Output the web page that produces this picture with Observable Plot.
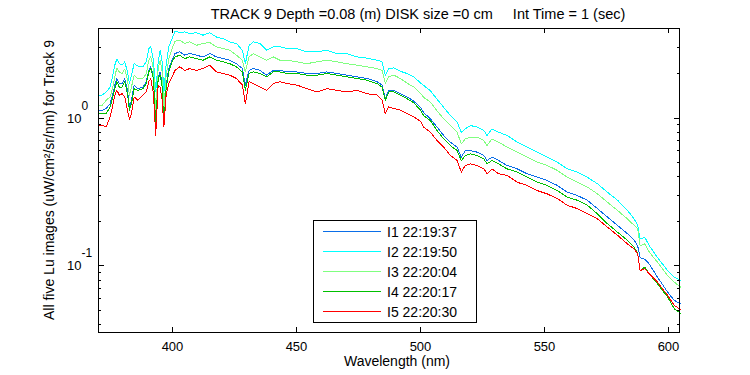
<!DOCTYPE html>
<html><head><meta charset="utf-8">
<script src="https://cdn.jsdelivr.net/npm/d3@7"></script>
<script src="https://cdn.jsdelivr.net/npm/@observablehq/plot@0.6"></script>
<style>
html,body{margin:0;padding:0;background:#fff;}
#chart{width:750px;height:375px;}
svg{font-family:"Liberation Sans",Arial,Helvetica,sans-serif;background:#fff;}
</style></head><body><div id="chart"></div>
<script>
// Wavelength grid (nm)
const wavelengths = [370,371.5,373.1,374.7,375.8,376.6,377.4,378.4,379.5,380.6,381.7,382.5,383.3,384.4,385.9,387.9,389.3,390.3,391.1,392.2,393.1,394.1,394.9,395.7,396.4,397.3,398.4,399.7,400.9,402.8,404.8,406.8,409.5,412.2,414.9,417.6,420.3,423.0,425.7,428.1,429.3,430.8,
432.5,435.2,437.9,440.6,443.3,446.0,450.1,454.1,458.2,462.2,466.3,470.3,474.4,478.5,482.5,484.5,485.8,487.2,489.2,491.9,494.6,497.3,
500.0,
501.3,504.0,506.7,509.4,512.1,514.8,516.5,518.1,520.2,522.9,525.6,526.9,528.9,531.6,535.0,539.1,543.1,547.2,551.2,
555.3,559.3,563.4,567.4,571.5,575.5,579.6,583.6,586.3,587.7,588.7,590.6,592.4,595.7,599.8,602.5,605];

const seriesNames = ["I1 22:19:37", "I2 22:19:50", "I3 22:20:04", "I4 22:20:17", "I5 22:20:30"];
const seriesColors = ["#0a6ee8", "#00ffff", "#80ff80", "#00c000", "#ff0000"];

const lu1 = [1.13,1.13,1.16,1.25,1.46,1.67,1.85,1.71,1.71,1.85,1.54,1.19,1.32,1.67,1.58,1.62,1.76,2.10,2.22,1.90,1.02,1.90,2.05,1.71,0.992,1.67,2.16,2.46,2.73,2.80,2.66,2.73,2.66,2.59,2.73,2.59,2.52,2.46,2.33,2.16,1.67,2.10,
2.16,2.10,1.95,2.10,2.10,2.05,2.05,2.00,2.00,2.05,2.00,1.95,1.90,1.85,1.76,1.67,1.35,1.54,1.54,1.46,1.39,1.30,
1.18,
1.09,0.987,0.868,0.762,0.686,0.636,0.544,0.603,0.603,0.588,0.558,0.516,0.544,0.516,0.478,0.453,0.420,0.398,0.378,
0.350,0.315,0.299,0.278,0.244,0.214,0.188,0.165,0.149,0.137,0.114,0.111,0.103,0.0841,0.0665,0.0585,0.0556];

const lu2 = [1.43,1.43,1.50,1.62,1.95,2.28,2.50,2.33,2.28,2.40,2.05,1.71,1.95,2.33,2.25,2.22,2.40,2.95,3.03,2.46,1.50,2.40,2.87,2.40,1.50,2.28,3.03,3.44,3.86,3.78,3.82,3.72,3.78,3.63,3.78,3.53,3.44,3.27,3.19,2.87,2.33,3.10,
3.27,3.19,2.87,3.03,3.03,2.95,2.95,2.80,2.80,2.87,2.73,2.73,2.59,2.54,2.46,2.40,1.95,2.16,2.18,2.07,2.00,1.90,
1.73,
1.66,1.53,1.34,1.18,1.04,0.937,0.802,0.845,0.890,0.868,0.824,0.762,0.845,0.802,0.762,0.686,0.636,0.588,0.544,
0.503,0.453,0.431,0.398,0.359,0.315,0.278,0.237,0.208,0.188,0.152,0.156,0.137,0.114,0.0932,0.0841,0.0798];

const lu3 = [1.22,1.22,1.32,1.39,1.62,1.90,2.18,2.05,2.00,2.14,1.80,1.43,1.62,1.95,1.85,1.85,2.00,2.46,2.59,2.16,1.10,2.16,2.46,2.05,1.10,1.95,2.52,2.95,3.30,3.36,3.19,3.27,3.10,3.19,3.24,3.03,2.95,2.87,2.66,2.46,2.05,2.59,
2.73,2.59,2.46,2.59,2.46,2.46,2.40,2.33,2.40,2.46,2.40,2.33,2.28,2.22,2.16,2.10,1.71,1.90,1.95,1.85,1.72,1.62,
1.47,
1.38,1.28,1.12,0.987,0.890,0.802,0.669,0.723,0.742,0.742,0.704,0.651,0.723,0.686,0.636,0.588,0.544,0.503,0.478,
0.442,0.398,0.368,0.341,0.307,0.270,0.237,0.208,0.188,0.178,0.137,0.141,0.124,0.106,0.0862,0.0778,0.0720];

const lu4 = [1.07,1.07,1.07,1.19,1.39,1.58,1.76,1.62,1.62,1.76,1.46,1.13,1.25,1.58,1.54,1.58,1.71,2.05,2.16,1.85,0.895,1.85,1.95,1.62,0.895,1.58,2.05,2.40,2.59,2.66,2.52,2.59,2.52,2.46,2.59,2.46,2.40,2.33,2.22,2.05,1.54,2.00,
2.05,2.00,1.90,2.05,2.05,2.00,2.00,1.95,1.95,2.00,1.95,1.90,1.85,1.80,1.71,1.62,1.32,1.50,1.50,1.43,1.35,1.27,
1.13,
1.04,0.962,0.824,0.723,0.651,0.603,0.516,0.558,0.573,0.558,0.530,0.490,0.516,0.490,0.453,0.431,0.398,0.368,0.350,
0.323,0.292,0.278,0.257,0.225,0.193,0.169,0.149,0.134,0.121,0.0932,0.0983,0.0885,0.0758,0.0616,0.0513,0.0480];

const lu5 = [0.895,0.895,0.872,1.02,1.22,1.43,1.54,1.43,1.46,1.39,1.13,0.982,1.07,1.39,1.32,1.43,1.50,1.76,1.85,1.46,0.766,1.67,1.62,1.32,0.872,1.43,1.71,1.90,2.10,2.22,2.10,2.16,2.10,2.16,2.28,2.05,2.00,1.95,1.85,1.67,1.25,1.76,
1.71,1.62,1.54,1.71,1.76,1.71,1.67,1.58,1.50,1.58,1.54,1.50,1.54,1.46,1.43,1.32,1.07,1.19,1.16,1.13,1.07,1.02,
0.95,
0.868,0.802,0.704,0.636,0.558,0.516,0.431,0.478,0.490,0.478,0.453,0.420,0.453,0.420,0.409,0.368,0.350,0.323,0.307,
0.285,0.257,0.244,0.225,0.208,0.183,0.161,0.141,0.130,0.121,0.0932,0.0957,0.0885,0.0778,0.0632,0.0541,0.0508];

const xTicks = [400, 450, 500, 550, 600];
const yMajorTicks = [0.1, 1];
const yTickExponents = ["-1", "0"];
const yMinorTicks = [0.04,0.05,0.06,0.07,0.08,0.09,0.2,0.3,0.4,0.5,0.6,0.7,0.8,0.9,2,3,4];
const titleText = "TRACK 9 Depth =0.08 (m) DISK size =0 cm     Int Time = 1 (sec)";
const xLabel = "Wavelength (nm)";
const yLabel = "All five Lu images (uW/cm\u00B2/sr/nm) for Track 9";

const allSeries = [lu1, lu2, lu3, lu4, lu5];
const rows = [];
allSeries.forEach((arr, s) => arr.forEach((v, i) => rows.push({w: wavelengths[i], v, s: seriesNames[s]})));

function decorations(index, scales, values, dims) {
  const {x, y} = scales;
  const {width, height, marginLeft, marginRight, marginTop, marginBottom} = dims;
  const L = marginLeft, R = width - marginRight, T = marginTop, B = height - marginBottom;
  const g = d3.create("svg:g").attr("text-anchor", "start");
  const line = (x1, y1, x2, y2, c = "#000") => g.append("line")
    .attr("x1", x1).attr("y1", y1).attr("x2", x2).attr("y2", y2)
    .attr("stroke", c).attr("stroke-width", 1).attr("shape-rendering", "crispEdges");
  // frame
  g.append("rect").attr("x", L + 0.5).attr("y", T + 0.5).attr("width", R - L - 1).attr("height", B - T)
    .attr("fill", "none").attr("stroke", "#000").attr("stroke-width", 1);
  // x ticks
  for (const t of xTicks) {
    const px = Math.round(x(t)) + 0.5;
    line(px, B, px, B - 5);
    line(px, T, px, T + 5);
    g.append("text").attr("x", px).attr("y", B + 19).attr("text-anchor", "middle")
      .attr("font-size", 13).attr("fill", "#000").text(String(t));
  }
  // y ticks
  yMajorTicks.forEach((t, i) => {
    const py = Math.round(y(t)) + 0.5;
    line(L, py, L + 6, py);
    line(R, py, R - 6, py);
    const tx = g.append("text").attr("x", L - 31).attr("y", py + 4.5).attr("text-anchor", "start")
      .attr("font-size", 13).attr("fill", "#000").text("10");
    tx.append("tspan").attr("dy", -13).attr("font-size", 12).text(yTickExponents[i]);
  });
  for (const t of yMinorTicks) {
    const py = Math.round(y(t)) + 0.5;
    line(L, py, L + 3, py);
    line(R, py, R - 3, py);
  }
  // title & labels
  g.append("text").attr("x", 418).attr("y", 19).attr("text-anchor", "middle")
    .attr("font-size", 14.5).attr("fill", "#000").attr("xml:space", "preserve")
    .style("white-space", "pre").text(titleText);
  g.append("text").attr("x", (L + R) / 2 + 8).attr("y", height - 9).attr("text-anchor", "middle")
    .attr("font-size", 14).attr("fill", "#000").text(xLabel);
  g.append("text").attr("transform", `translate(54,${(T + B) / 2}) rotate(-90)`).attr("text-anchor", "middle")
    .attr("font-size", 14).attr("fill", "#000").text(yLabel);
  // legend
  const lx = 313, ly = 220, lw = 163, lh = 102;
  g.append("rect").attr("x", lx + 0.5).attr("y", ly + 0.5).attr("width", lw).attr("height", lh)
    .attr("fill", "#fff").attr("stroke", "#000").attr("stroke-width", 1);
  seriesNames.forEach((name, i) => {
    const ry = ly + 11 + i * 20 + 0.5;
    line(lx + 10, ry, lx + 68, ry, seriesColors[i]);
    g.append("text").attr("x", lx + 74).attr("y", ry + 5).attr("text-anchor", "start").attr("font-size", 14)
      .attr("fill", "#000").text(name);
  });
  return g.node();
}

const chart = Plot.plot({
  width: 750,
  height: 375,
  marginLeft: 98,
  marginRight: 70,
  marginTop: 28,
  marginBottom: 43,
  x: {domain: [370, 605], axis: null},
  y: {type: "log", domain: [0.0355, 4.03], axis: null},
  color: {domain: seriesNames, range: seriesColors},
  marks: [
    Plot.line(rows, {x: "w", y: "v", z: "s", stroke: "s", strokeWidth: 1, shapeRendering: "crispEdges"}),
    decorations
  ]
});
document.getElementById("chart").appendChild(chart);
</script>
</body></html>
